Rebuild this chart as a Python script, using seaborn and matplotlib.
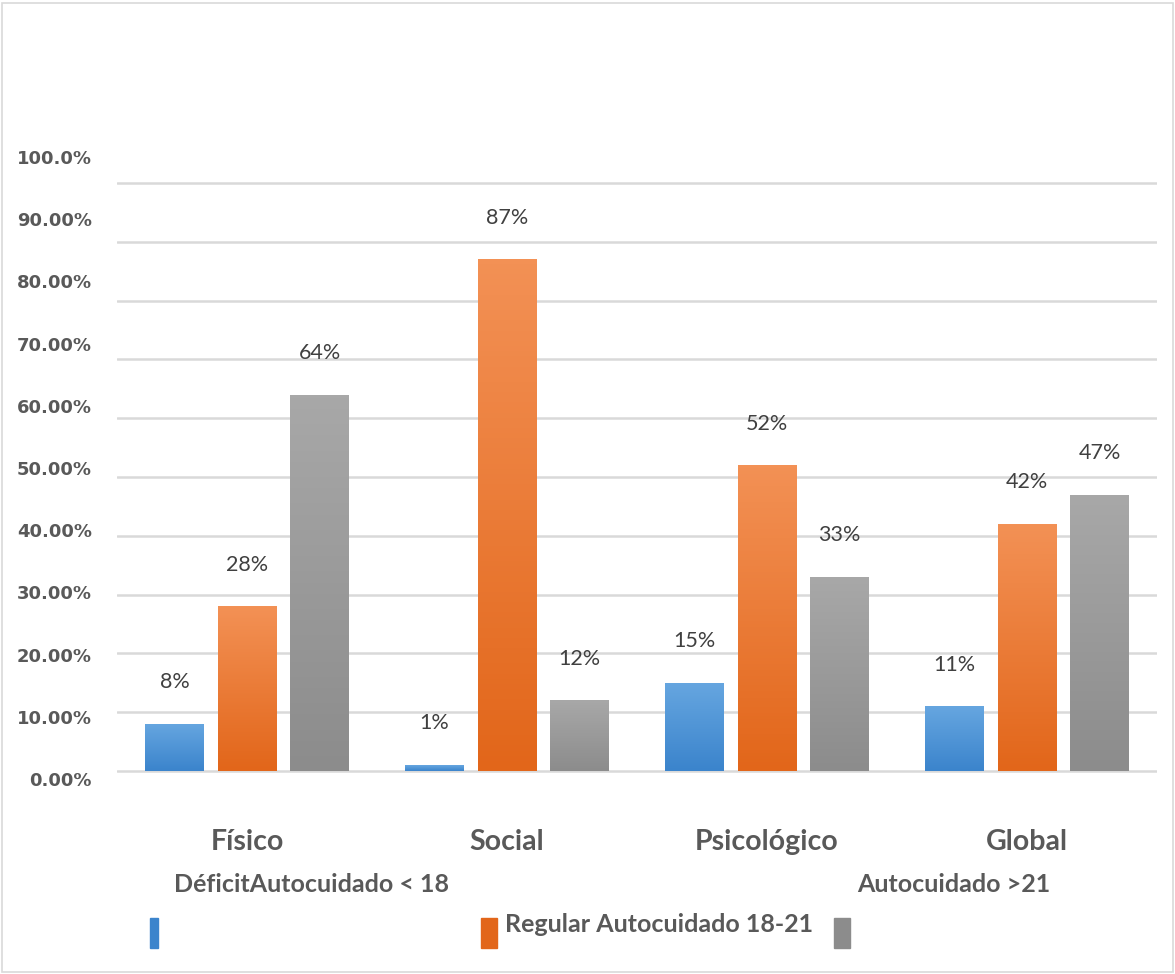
import numpy as np
import pandas as pd
import matplotlib.pyplot as plt
from matplotlib.patches import Rectangle
from matplotlib.colors import LinearSegmentedColormap
import seaborn as sns

# datos
categorias = ["Físico", "Social", "Psicológico", "Global"]
deficit = [8, 1, 15, 11]
regular = [28, 87, 52, 42]
autocuidado = [64, 12, 33, 47]
series = ["DéficitAutocuidado < 18", "Regular Autocuidado 18-21", "Autocuidado >21"]
yticks = [0, 10, 20, 30, 40, 50, 60, 70, 80, 90, 100]
ytick_labels = ["0.00%", "10.00%", "20.00%", "30.00%", "40.00%", "50.00%",
                "60.00%", "70.00%", "80.00%", "90.00%", "100.0%"]

df = pd.DataFrame({
    "categoria": categorias * 3,
    "serie": [series[0]] * 4 + [series[1]] * 4 + [series[2]] * 4,
    "valor": deficit + regular + autocuidado,
})

# colores (arriba, abajo) para el degradado
grad = {
    series[0]: ("#66a6e0", "#3b84cc"),
    series[1]: ("#f39155", "#e2661a"),
    series[2]: ("#a8a8a8", "#8c8c8c"),
}
palette = {k: v[1] for k, v in grad.items()}
txt = "#595959"

sns.set_style("white")
plt.rcParams['font.family'] = ['Lato', 'DejaVu Sans']

fig = plt.figure(figsize=(11.75, 9.74), dpi=100)
ax = fig.add_axes([0.0996, 0.1963, 0.885, 0.646])

sns.barplot(data=df, x="categoria", y="valor", hue="serie", order=categorias,
            hue_order=series, palette=palette, width=0.837, gap=0.19,
            legend=False, ax=ax, zorder=3)

ax.set_xlim(-0.5, 3.5)
ax.set_ylim(-2, 105)
ax.set_yticks(yticks)
ax.yaxis.grid(True, color="#d9d9d9", linewidth=1.8, zorder=0)
ax.set_axisbelow(True)
ax.tick_params(axis="y", labelleft=False, length=0)
ax.tick_params(axis="x", length=0, pad=33)
for lab in ax.get_xticklabels():
    lab.set_fontsize(20.5)
    lab.set_fontweight("bold")
    lab.set_color(txt)
ax.set_xlabel("")
ax.set_ylabel("")
sns.despine(ax=ax, left=True, bottom=True)

# degradado vertical en cada barra
labels_all = deficit + regular + autocuidado
bars = [p for p in ax.patches if isinstance(p, Rectangle)]
for i, bar in enumerate(bars):
    s = series[i // 4]
    top_c, bot_c = grad[s]
    cmap = LinearSegmentedColormap.from_list("g", [bot_c, top_c])
    x0, w, h = bar.get_x(), bar.get_width(), bar.get_height()
    g = np.linspace(0, 1, 100).reshape(-1, 1)
    im = ax.imshow(g, cmap=cmap, origin="lower", aspect="auto",
                   extent=[x0, x0 + w, 0, h], zorder=3)
    im.set_clip_path(bar)
    bar.set_facecolor("none")
    bar.set_edgecolor("none")
    ax.annotate(f"{labels_all[i]}%", (x0 + w / 2, h), xytext=(0, 30),
                textcoords="offset points", ha="center", va="center",
                fontsize=15.5, color="#404040")
ax.set_xlim(-0.5, 3.5)
ax.set_ylim(-2, 105)

# etiquetas del eje y (desplazadas como en el original)
ax2 = ax.twinx()
ax2.set_ylim(-0.61, 100.55)
ax2.yaxis.tick_left()
ax2.set_yticks(yticks)
ax2.set_yticklabels(ytick_labels, fontsize=13, fontweight="bold", color=txt,
                    family="DejaVu Sans")
ax2.tick_params(axis="y", length=0, pad=18)
for sp in ax2.spines.values():
    sp.set_visible(False)

# leyenda
fig.text(312 / 1175, 1 - 884 / 974, series[0], ha="center", va="center",
         fontsize=18, fontweight="bold", color=txt)
fig.text(857 / 1175, 1 - 884 / 974, series[2], ha="left", va="center",
         fontsize=18, fontweight="bold", color=txt)
fig.text(505 / 1175, 1 - 924 / 974, series[1], ha="left", va="center",
         fontsize=18, fontweight="bold", color=txt)
for x0, x1, s in [(150, 158, series[0]), (481, 497, series[1]), (834, 850, series[2])]:
    fig.patches.append(Rectangle((x0 / 1175, 1 - 948 / 974), (x1 - x0) / 1175, 30 / 974,
                                 transform=fig.transFigure, color=grad[s][1]))

# borde exterior
fig.patches.append(Rectangle((0.002, 0.002), 0.996, 0.995, transform=fig.transFigure,
                             fill=False, edgecolor="#d9d9d9", linewidth=1.2))

fig.savefig("out.png", dpi=100)
